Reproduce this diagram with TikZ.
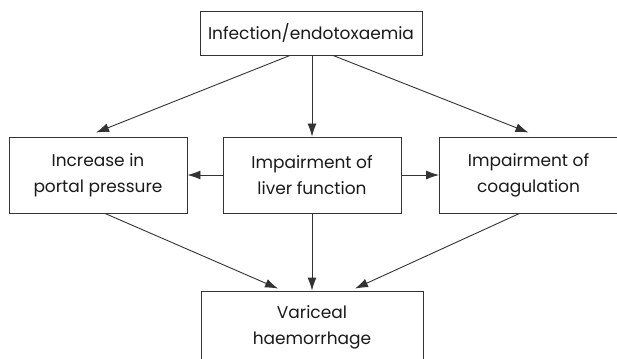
\documentclass[tikz,border=0pt]{standalone}
\usepackage{fontspec}
\setmainfont{Poppins}
\usetikzlibrary{arrows.meta}
\definecolor{ln}{HTML}{333333}
\definecolor{tx}{HTML}{1A1A1A}
\tikzset{
  box/.style={draw=ln, line width=0.9pt, inner sep=0pt, align=center, text=tx,
    font=\fontsize{17}{26}\selectfont},
  arr/.style={draw=ln, line width=0.9pt, -{Latex[length=13pt,width=9pt]}}
}
\begin{document}
\begin{tikzpicture}[x=1pt,y=-1pt]
\useasboundingbox (0,0) rectangle (617,358);
\node[box, minimum width=222pt, minimum height=44pt] (top) at (311,33) {Infection/endotoxaemia};
\node[box, minimum width=178pt, minimum height=76pt] (left) at (98,175) {Increase in\\portal pressure};
\node[box, minimum width=178pt, minimum height=76pt] (mid) at (312,175) {Impairment of\\liver function};
\node[box, minimum width=178pt, minimum height=76pt] (right) at (528.5,175) {Impairment of\\coagulation};
\node[box, minimum width=222pt, minimum height=72pt] (bot) at (312,327) {Variceal\\haemorrhage};
\draw[arr] ([xshift=-21pt]top.south) -- ([yshift=4pt,xshift=-2pt]left.north);
\draw[arr] ([xshift=1pt]top.south) -- (mid.north);
\draw[arr] ([xshift=22pt]top.south) -- ([yshift=4pt]right.north);
\draw[arr] (mid.west) -- (left.east);
\draw[arr] (mid.east) -- (right.west);
\draw[arr] ([xshift=7pt]left.south) -- ([xshift=-34pt,yshift=2pt]bot.north);
\draw[arr] (mid.south) -- (bot.north);
\draw[arr] ([xshift=-9pt]right.south) -- ([xshift=43pt,yshift=2pt]bot.north);
\end{tikzpicture}
\end{document}
